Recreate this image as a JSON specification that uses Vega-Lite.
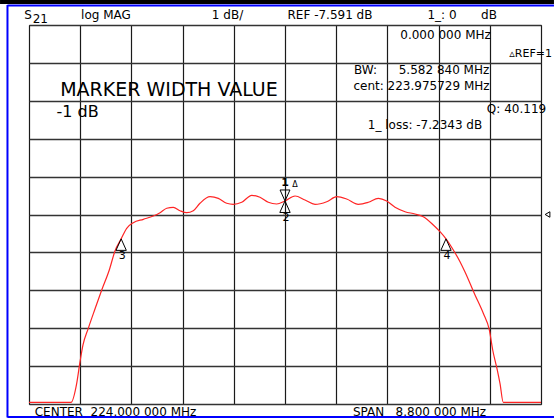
{
  "$schema": "https://vega.github.io/schema/vega-lite/v6.json",
  "width": 512,
  "height": 379,
  "autosize": {"type": "none"},
  "padding": {"left": 29, "top": 25, "right": 13, "bottom": 15},
  "background": "white",
  "config": {
    "view": {"stroke": "#111", "strokeWidth": 1},
    "font": "DejaVu Sans",
    "axis": {"gridOpacity": 1}
  },
  "datasets": {
    "trace": [
      {"f": 219.600, "db": -12.55}, {"f": 220.322, "db": -12.55}, {"f": 220.420, "db": -12.045},
      {"f": 220.477, "db": -11.475}, {"f": 220.528, "db": -11.034}, {"f": 220.619, "db": -10.594},
      {"f": 220.734, "db": -10.084}, {"f": 220.850, "db": -9.583}, {"f": 220.980, "db": -9.055},
      {"f": 221.078, "db": -8.554}, {"f": 221.184, "db": -8.234}, {"f": 221.279, "db": -7.955},
      {"f": 221.393, "db": -7.807}, {"f": 221.565, "db": -7.718}, {"f": 221.736, "db": -7.631},
      {"f": 221.852, "db": -7.544}, {"f": 221.967, "db": -7.427}, {"f": 222.080, "db": -7.401},
      {"f": 222.195, "db": -7.491}, {"f": 222.310, "db": -7.544}, {"f": 222.424, "db": -7.491},
      {"f": 222.539, "db": -7.295}, {"f": 222.711, "db": -7.121}, {"f": 222.854, "db": -7.164},
      {"f": 222.998, "db": -7.295}, {"f": 223.111, "db": -7.322}, {"f": 223.256, "db": -7.269},
      {"f": 223.428, "db": -7.084}, {"f": 223.570, "db": -7.137}, {"f": 223.713, "db": -7.269},
      {"f": 223.857, "db": -7.314}, {"f": 224.000, "db": -7.234}, {"f": 224.172, "db": -7.103},
      {"f": 224.344, "db": -7.208}, {"f": 224.516, "db": -7.322}, {"f": 224.717, "db": -7.253},
      {"f": 224.889, "db": -7.121}, {"f": 225.060, "db": -7.182}, {"f": 225.260, "db": -7.322},
      {"f": 225.432, "db": -7.269}, {"f": 225.604, "db": -7.164}, {"f": 225.748, "db": -7.235},
      {"f": 225.891, "db": -7.401}, {"f": 226.063, "db": -7.517}, {"f": 226.234, "db": -7.578},
      {"f": 226.377, "db": -7.649}, {"f": 226.549, "db": -7.868}, {"f": 226.664, "db": -8.045},
      {"f": 226.767, "db": -8.234}, {"f": 226.893, "db": -8.528}, {"f": 227.008, "db": -8.836},
      {"f": 227.094, "db": -9.108}, {"f": 227.266, "db": -9.715}, {"f": 227.408, "db": -10.198},
      {"f": 227.512, "db": -10.638}, {"f": 227.570, "db": -11.166}, {"f": 227.649, "db": -11.694},
      {"f": 227.695, "db": -12.045}, {"f": 227.752, "db": -12.55}, {"f": 228.400, "db": -12.55}
    ],
    "markers": [
      {"m": "1", "f": 224.000, "db": -7.234},
      {"m": "2", "f": 224.000, "db": -7.234},
      {"m": "3", "f": 221.184, "db": -8.234},
      {"m": "4", "f": 226.767, "db": -8.234}
    ],
    "notes": [
      {"t": "S", "f": 219.583, "db": -2.314},
      {"t": "21", "f": 219.795, "db": -2.433},
      {"t": "log MAG", "f": 220.923, "db": -2.314},
      {"t": "1 dB/", "f": 223.012, "db": -2.314},
      {"t": "REF -7.591 dB", "f": 224.773, "db": -2.314},
      {"t": "1_: 0", "f": 226.698, "db": -2.314},
      {"t": "dB", "f": 227.506, "db": -2.314},
      {"t": "0.000 000 MHz", "f": 226.759, "db": -2.855},
      {"t": "BW:", "f": 225.384, "db": -3.778},
      {"t": "5.582 840 MHz", "f": 226.733, "db": -3.778},
      {"t": "cent: 223.975729 MHz", "f": 226.346, "db": -4.201},
      {"t": "Q: 40.119", "f": 227.979, "db": -4.807},
      {"t": "1_ loss: -7.2343 dB", "f": 226.406, "db": -5.229},
      {"t": "CENTER\u00a0\u00a0224.000 000 MHz", "f": 221.087, "db": -12.802},
      {"t": "SPAN\u00a0\u00a0\u00a08.800 000 MHz", "f": 226.312, "db": -12.802}
    ],
    "ref1": [{"t": "▵REF=1", "f": 228.589, "db": -3.356}],
    "title": [{"t": "MARKER WIDTH VALUE", "f": 222.006, "db": -4.319}],
    "sub": [{"t": "-1 dB", "f": 220.434, "db": -4.887}]
  },
  "layer": [
    {
      "data": {"name": "trace"},
      "mark": {"type": "line", "color": "#ff2525", "strokeWidth": 1.2, "interpolate": "monotone"},
      "encoding": {
        "x": {
          "field": "f", "type": "quantitative",
          "scale": {"domain": [219.6, 228.4], "nice": false, "zero": false},
          "axis": {
            "values": [219.6, 220.48, 221.36, 222.24, 223.12, 224.0, 224.88, 225.76, 226.64, 227.52, 228.4],
            "tickCount": 30,
            "grid": true, "gridColor": "#1a1a1a", "gridWidth": 1.2,
            "labels": false, "ticks": false, "domain": false, "title": null
          }
        },
        "y": {
          "field": "db", "type": "quantitative",
          "scale": {"domain": [-12.591, -2.591], "nice": false, "zero": false},
          "axis": {
            "values": [-12.591, -11.591, -10.591, -9.591, -8.591, -7.591, -6.591, -5.591, -4.591, -3.591, -2.591],
            "tickCount": 30,
            "grid": true, "gridColor": "#333", "gridWidth": 1.4,
            "labels": false, "ticks": false, "domain": false, "title": null
          }
        }
      }
    },
    {
      "data": {"name": "markers"},
      "transform": [{"filter": "datum.m == '1'"}],
      "mark": {"type": "point", "shape": "M0,0L-0.45,-1L0.45,-1Z", "size": 484, "filled": false, "stroke": "#000", "strokeWidth": 1, "opacity": 1},
      "encoding": {"x": {"field": "f", "type": "quantitative"}, "y": {"field": "db", "type": "quantitative"}}
    },
    {
      "data": {"name": "markers"},
      "transform": [{"filter": "datum.m != '1'"}],
      "mark": {"type": "point", "shape": "M0,0L-0.45,1L0.45,1Z", "size": 529, "filled": false, "stroke": "#000", "strokeWidth": 1, "opacity": 1},
      "encoding": {"x": {"field": "f", "type": "quantitative"}, "y": {"field": "db", "type": "quantitative"}}
    },
    {
      "data": {"name": "markers"},
      "transform": [{"filter": "datum.m == '1'"}],
      "mark": {"type": "text", "fontSize": 11, "fontWeight": "bold", "dy": -18, "baseline": "middle", "align": "center", "color": "#000"},
      "encoding": {"x": {"field": "f", "type": "quantitative"}, "y": {"field": "db", "type": "quantitative"}, "text": {"field": "m"}}
    },
    {
      "data": {"name": "markers"},
      "transform": [{"filter": "datum.m == '1'"}],
      "mark": {"type": "text", "fontSize": 8, "dx": 10, "dy": -16, "baseline": "middle", "align": "center", "color": "#000"},
      "encoding": {"x": {"field": "f", "type": "quantitative"}, "y": {"field": "db", "type": "quantitative"}, "text": {"value": "Δ"}}
    },
    {
      "data": {"name": "markers"},
      "transform": [{"filter": "datum.m != '1'"}],
      "mark": {"type": "text", "fontSize": 11, "dx": 1, "dy": 17, "baseline": "middle", "align": "center", "color": "#000"},
      "encoding": {"x": {"field": "f", "type": "quantitative"}, "y": {"field": "db", "type": "quantitative"}, "text": {"field": "m"}}
    },
    {
      "data": {"values": [{}]},
      "mark": {"type": "point", "shape": "triangle-left", "size": 30, "filled": false, "stroke": "#000", "strokeWidth": 1, "opacity": 1},
      "encoding": {"x": {"datum": 228.512}, "y": {"datum": -7.591}}
    },
    {
      "data": {"name": "notes"},
      "mark": {"type": "text", "fontSize": 12, "baseline": "middle", "align": "center", "color": "#000"},
      "encoding": {"x": {"field": "f", "type": "quantitative"}, "y": {"field": "db", "type": "quantitative"}, "text": {"field": "t"}}
    },
    {
      "data": {"name": "ref1"},
      "mark": {"type": "text", "fontSize": 11, "baseline": "middle", "align": "right", "color": "#000"},
      "encoding": {"x": {"field": "f", "type": "quantitative"}, "y": {"field": "db", "type": "quantitative"}, "text": {"field": "t"}}
    },
    {
      "data": {"name": "title"},
      "mark": {"type": "text", "fontSize": 19, "baseline": "middle", "align": "center", "color": "#000"},
      "encoding": {"x": {"field": "f", "type": "quantitative"}, "y": {"field": "db", "type": "quantitative"}, "text": {"field": "t"}}
    },
    {
      "data": {"name": "sub"},
      "mark": {"type": "text", "fontSize": 16, "baseline": "middle", "align": "center", "color": "#000"},
      "encoding": {"x": {"field": "f", "type": "quantitative"}, "y": {"field": "db", "type": "quantitative"}, "text": {"field": "t"}}
    },
    {
      "data": {"values": [{}]},
      "mark": {"type": "rect", "color": "#000"},
      "encoding": {"x": {"datum": 219.102}, "x2": {"datum": 228.623}, "y": {"datum": -1.931}, "y2": {"datum": -2.037}}
    },
    {
      "data": {"values": [{}]},
      "mark": {"type": "rule", "color": "#0000ff", "strokeWidth": 2},
      "encoding": {"x": {"datum": 219.23}, "x2": {"datum": 228.623}, "y": {"datum": -2.076}}
    },
    {
      "data": {"values": [{}]},
      "mark": {"type": "rule", "color": "#0000ff", "strokeWidth": 2},
      "encoding": {"x": {"datum": 219.23}, "x2": {"datum": 228.623}, "y": {"datum": -12.934}}
    },
    {
      "data": {"values": [{}]},
      "mark": {"type": "rule", "color": "#0000ff", "strokeWidth": 2},
      "encoding": {"x": {"datum": 219.23}, "y": {"datum": -2.063}, "y2": {"datum": -12.947}}
    }
  ]
}
